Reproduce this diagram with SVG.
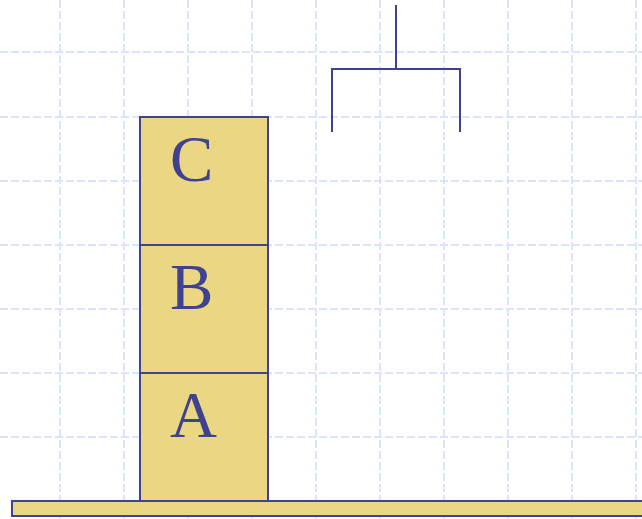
<svg xmlns="http://www.w3.org/2000/svg" width="642" height="519" viewBox="0 0 642 519">
<style>
.grid{stroke:#dbe4fd;stroke-width:2;stroke-dasharray:8 3;fill:none}
.blk{fill:#ead683;stroke:#3f428f;stroke-width:2}
.lbl{font-family:"Liberation Serif","Times New Roman",serif;font-size:65px;fill:#3f428f}
.crane{stroke:#3f428f;stroke-width:2;fill:none}
</style>
<rect width="642" height="519" fill="#ffffff"/>
<g id="grid" class="grid">
<path d="M60 0V519M124 0V519M188 0V519M252 0V519M316 0V519M380 0V519M444 0V519M508 0V519M572 0V519M636 0V519"/>
<path d="M0 52H642M0 117H642M0 181H642M0 245H642M0 309H642M0 373H642M0 437H642"/>
</g>
<g id="table"><rect class="blk" x="12" y="501" width="640" height="15"/></g>
<g id="blockA"><rect class="blk" x="140" y="373" width="128" height="128"/><text class="lbl" x="170" y="437">A</text></g>
<g id="blockB"><rect class="blk" x="140" y="245" width="128" height="128"/><text class="lbl" x="170" y="309">B</text></g>
<g id="blockC"><rect class="blk" x="140" y="117" width="128" height="128"/><text class="lbl" x="170" y="181">C</text></g>
<g id="crane" class="crane">
<path d="M396 5V69M332 132V69H460V132"/>
</g>
</svg>
